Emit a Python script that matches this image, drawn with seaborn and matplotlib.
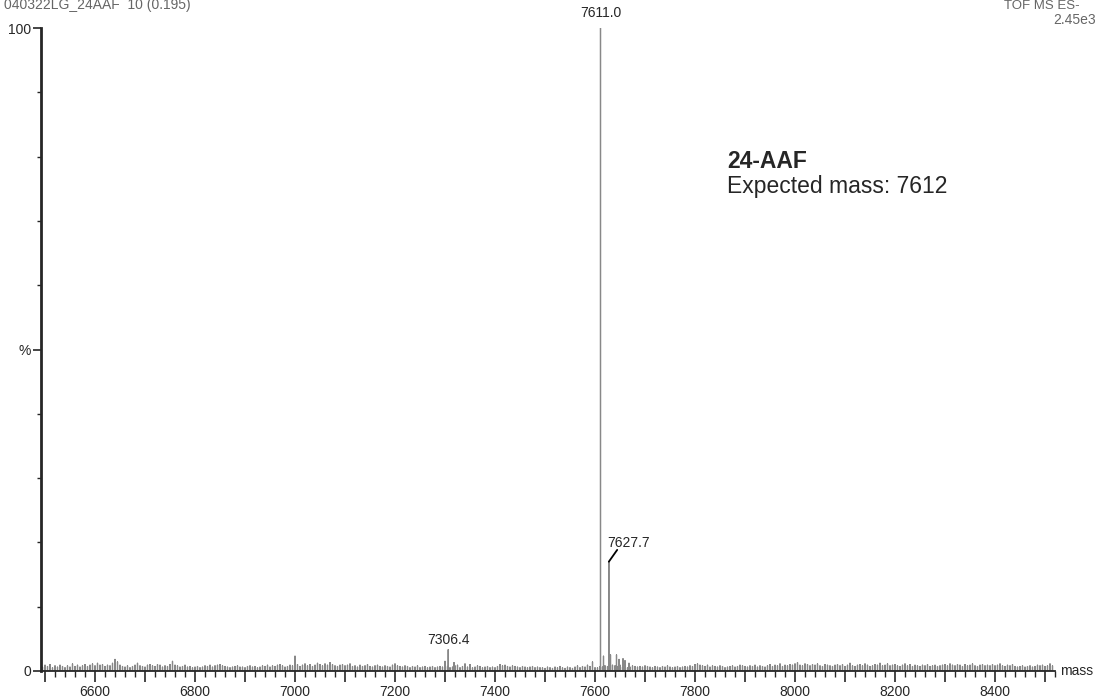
import numpy as np
import pandas as pd
import matplotlib
matplotlib.use('Agg')
import matplotlib.pyplot as plt
from matplotlib.ticker import MultipleLocator, FuncFormatter
import seaborn as sns

# centroid peaks (mass, % of base peak)
peak_mass = [7306.4, 7300.0, 7318.0, 7595.0, 7611.0, 7617.0, 7627.7, 7631.0,
             7643.0, 7648.0, 7656.0, 7660.0, 7668.0]
peak_int = [3.3, 1.5, 1.3, 1.4, 100.0, 2.3, 17.0, 2.5,
            2.5, 1.8, 1.9, 1.6, 1.2]
labelled = [7306.4, 7611.0, 7627.7]

# baseline noise, one reading every 5 mass units starting at 6495
noise_start = 6495
noise_step = 5
noise_int = [
    0.6, 0.9, 0.7, 1.0, 0.5, 0.8, 0.6, 0.9, 0.7, 0.5, 0.8, 0.6, 1.1, 0.7, 0.9, 0.6, 0.8, 1.0, 0.7, 0.9,  # 6495
    1.1, 0.8, 1.2, 0.9, 1.0, 0.7, 0.9, 0.8, 1.2, 1.8, 1.4, 0.9, 0.7, 0.6, 0.8, 0.5, 0.7, 0.9, 1.2, 0.8,  # 6595
    0.7, 0.6, 0.9, 1.0, 0.8, 0.7, 1.0, 0.9, 0.6, 0.8, 0.7, 1.0, 1.5, 0.9, 0.8, 0.6, 0.7, 0.9, 0.6, 0.7,  # 6695
    0.5, 0.6, 0.7, 0.5, 0.6, 0.8, 0.7, 0.9, 0.6, 0.8, 0.9, 1.0, 0.8, 0.7, 0.6, 0.5, 0.6, 0.7, 0.8, 0.6,  # 6795
    0.6, 0.5, 0.7, 0.8, 0.6, 0.7, 0.5, 0.6, 0.8, 0.7, 0.9, 0.6, 0.8, 0.7, 0.9, 1.0, 0.8, 0.6, 0.7, 0.9,  # 6895
    0.8, 2.3, 1.0, 0.7, 0.9, 1.1, 0.8, 1.0, 0.7, 0.9, 1.2, 1.0, 0.8, 1.1, 0.9, 1.3, 1.0, 0.8, 0.7, 0.9,  # 6995
    1.0, 0.8, 0.9, 1.1, 0.7, 0.8, 0.6, 0.9, 0.7, 0.8, 1.0, 0.7, 0.6, 0.8, 0.9, 0.7, 0.6, 0.8, 0.7, 0.6,  # 7095
    0.9, 1.1, 0.8, 0.7, 0.6, 0.8, 0.7, 0.5, 0.7, 0.6, 0.8, 0.5, 0.6, 0.7, 0.5, 0.6, 0.7, 0.5, 0.6, 0.7,  # 7195
    0.6, 0.7, 0.7, 0.5, 0.6, 0.8, 0.9, 0.5, 0.7, 1.1, 0.6, 1.0, 0.5, 0.6, 0.8, 0.7, 0.5, 0.6, 0.7, 0.5,  # 7295
    0.6, 0.5, 0.7, 1.0, 0.8, 0.9, 0.7, 0.6, 0.8, 0.7, 0.6, 0.5, 0.7, 0.6, 0.5, 0.6, 0.7, 0.5, 0.6, 0.5,  # 7395
    0.5, 0.4, 0.6, 0.5, 0.4, 0.6, 0.5, 0.7, 0.5, 0.4, 0.6, 0.5, 0.4, 0.6, 0.8, 0.5, 0.7, 0.6, 0.9, 0.7,  # 7495
    0.6, 0.5, 0.5, 0.7, 0.6, 0.8, 0.7, 0.6, 0.9, 0.8, 0.7, 0.9, 0.6, 0.7, 0.5, 0.6, 0.8, 0.7, 0.6, 0.7,  # 7595
    0.6, 0.8, 0.7, 0.6, 0.5, 0.7, 0.6, 0.5, 0.7, 0.6, 0.8, 0.6, 0.5, 0.6, 0.7, 0.5, 0.6, 0.7, 0.6, 0.8,  # 7695
    0.7, 1.0, 1.1, 0.9, 0.8, 0.7, 0.9, 0.6, 0.8, 0.7, 0.6, 0.8, 0.7, 0.5, 0.6, 0.7, 0.8, 0.6, 0.7, 0.9,  # 7795
    0.8, 0.7, 0.6, 0.8, 0.7, 0.9, 0.6, 0.8, 0.7, 0.6, 0.8, 1.0, 0.7, 0.9, 0.8, 1.1, 0.7, 0.9, 0.8, 1.0,  # 7895
    0.9, 1.1, 1.3, 0.9, 0.8, 1.1, 1.0, 0.8, 1.0, 0.9, 1.1, 0.8, 0.7, 1.0, 0.9, 0.8, 0.7, 0.9, 1.0, 0.8,  # 7995
    1.0, 0.7, 0.9, 1.2, 0.8, 0.7, 0.9, 1.0, 0.8, 1.1, 0.9, 0.7, 0.8, 1.0, 0.9, 1.2, 0.8, 0.9, 1.1, 0.8,  # 8095
    0.9, 1.0, 0.8, 0.7, 0.9, 1.1, 0.8, 1.0, 0.7, 0.9, 0.8, 0.7, 0.9, 0.8, 1.0, 0.7, 0.8, 0.9, 0.7, 0.8,  # 8195
    0.9, 1.0, 0.8, 1.1, 0.9, 0.8, 1.0, 0.9, 0.7, 1.0, 0.8, 0.9, 1.1, 0.8, 0.7, 0.9, 1.0, 0.8, 0.9, 0.8,  # 8295
    1.0, 0.8, 0.9, 1.1, 0.8, 0.7, 0.9, 0.8, 1.0, 0.7, 0.6, 0.7, 0.8, 0.6, 0.7, 0.8, 0.6, 0.7, 0.9, 0.8,  # 8395
    0.9, 0.7, 0.8, 1.1, 0.8,  # 8495
]

x_range = (6492, 8520)

sns.set_style('ticks')
plt.rcParams['font.family'] = ['Liberation Sans', 'DejaVu Sans']

noise_mass = noise_start + noise_step * np.arange(len(noise_int))
mass = np.concatenate([noise_mass, peak_mass])
inten = np.concatenate([noise_int, peak_int])
order = np.argsort(mass, kind='stable')
mass, inten = mass[order], inten[order]

# stick spectrum: baseline -> top -> baseline for each centroid
zeros = np.zeros_like(inten)
prof = pd.DataFrame({
    'mass': np.repeat(mass, 3),
    'intensity': np.column_stack([zeros, inten, zeros]).ravel(),
})

fig = plt.figure(figsize=(10.98, 6.97), dpi=100)
ax = fig.add_axes([41 / 1098, 1 - 671 / 697, (1055 - 41) / 1098, (671 - 28) / 697])
sns.lineplot(data=prof, x='mass', y='intensity', estimator=None, sort=False,
             color='#888888', lw=0.9, ax=ax)

ax.set_xlim(*x_range)
ax.set_ylim(0, 100)
ax.set_xlabel('')
ax.set_ylabel('')
sns.despine(ax=ax)
ax.spines['left'].set_linewidth(2.0)
ax.spines['bottom'].set_linewidth(1.3)

ax.set_yticks([0, 50, 100])
ax.set_yticklabels(['0', '%', '100'])
ax.yaxis.set_minor_locator(MultipleLocator(10))
ax.tick_params(axis='y', which='major', length=6, width=1.2, pad=1, labelsize=10)
ax.tick_params(axis='y', which='minor', length=3, width=1.0)

ax.xaxis.set_major_locator(MultipleLocator(100))
ax.xaxis.set_minor_locator(MultipleLocator(20))
ax.xaxis.set_major_formatter(FuncFormatter(lambda v, p: f'{v:.0f}' if v % 200 == 0 else ''))
ax.tick_params(axis='x', which='major', length=8, width=1.2, pad=2, labelsize=10)
ax.tick_params(axis='x', which='minor', length=4, width=1.0)

ax.text(1.005, 0, 'mass', transform=ax.transAxes, ha='left', va='center', fontsize=10)

pk = dict(zip(peak_mass, peak_int))
ax.annotate(f'{labelled[0]:.1f}', xy=(labelled[0], pk[labelled[0]]), xytext=(0, 2),
            textcoords='offset points', ha='center', va='bottom', fontsize=10)
ax.annotate(f'{labelled[1]:.1f}', xy=(labelled[1], pk[labelled[1]]), xytext=(0, 6),
            textcoords='offset points', ha='center', va='bottom', fontsize=10,
            annotation_clip=False)
ax.annotate('', xy=(labelled[2], pk[labelled[2]]), xytext=(6, 8.5),
            textcoords='offset points', arrowprops=dict(arrowstyle='-', lw=1.3, color='black',
                                                         shrinkA=0, shrinkB=0))
ax.annotate(f'{labelled[2]:.1f}', xy=(labelled[2], pk[labelled[2]]), xytext=(-1.5, 13.5),
            textcoords='offset points', ha='left', va='center', fontsize=10)

fig.text(727 / 1098, 1 - 162 / 697, '24-AAF', fontsize=16.5, fontweight='bold',
         ha='left', va='center')
fig.text(727 / 1098, 1 - 186 / 697, 'Expected mass: 7612', fontsize=16.5,
         ha='left', va='center')

fig.text(4 / 1098, 1 - 9 / 697, '040322LG_24AAF  10 (0.195)', fontsize=10,
         color='#666666', ha='left', va='baseline')
fig.text(1080 / 1098, 1 - 9 / 697, 'TOF MS ES-', fontsize=9.5,
         color='#666666', ha='right', va='baseline')
fig.text(1096 / 1098, 1 - 20 / 697, '2.45e3', fontsize=10,
         color='#666666', ha='right', va='center')

fig.savefig('out.png', dpi=100)
